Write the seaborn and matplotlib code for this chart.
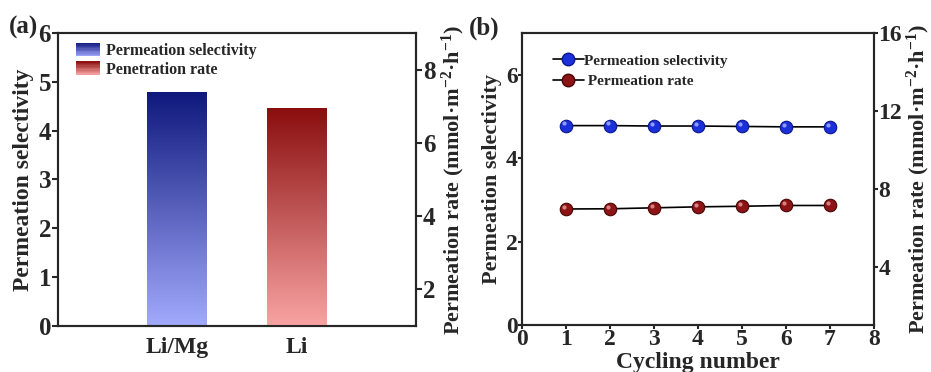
import numpy as np
import pandas as pd
import seaborn as sns
import matplotlib.pyplot as plt
from matplotlib.colors import LinearSegmentedColormap
from matplotlib.legend_handler import HandlerBase
from matplotlib.patches import Rectangle
from matplotlib.lines import Line2D
from matplotlib.transforms import ScaledTranslation

# data
categories = ['Li/Mg', 'Li']
selectivity_a = [4.79]
rate_a = [6.95]
cycles = [1, 2, 3, 4, 5, 6, 7]
selectivity_b = [4.78, 4.78, 4.77, 4.77, 4.76, 4.75, 4.75]
rate_b = [6.96, 6.97, 7.02, 7.07, 7.10, 7.14, 7.14]

sns.set_style('ticks')
plt.rcParams['font.family'] = ['Liberation Serif', 'DejaVu Serif']
plt.rcParams['font.weight'] = 'bold'
plt.rcParams['axes.labelweight'] = 'bold'
plt.rcParams['mathtext.fontset'] = 'custom'
plt.rcParams['mathtext.rm'] = 'Liberation Serif:bold'
plt.rcParams['mathtext.default'] = 'rm'
plt.rcParams['axes.linewidth'] = 1.5

blue_top, blue_bot = '#0f187c', '#a2aafd'
red_top, red_bot = '#8a0e0e', '#f9a3a3'
rate_label = 'Permeation rate (mmol·m$^{-2}$·h$^{-1}$)'

fig = plt.figure(figsize=(9.31, 3.72), dpi=100)
ax_a = fig.add_axes([0.0623, 0.1237, 0.3845, 0.7876])
ax_b = fig.add_axes([0.5604, 0.1263, 0.3784, 0.785])

# ---------- panel (a) ----------
df_sel = pd.DataFrame({'cat': categories[:1], 'val': selectivity_a})
df_rate = pd.DataFrame({'cat': categories[1:], 'val': rate_a})
sns.barplot(data=df_sel, x='cat', y='val', order=categories, width=0.5, ax=ax_a)
ax_a2 = ax_a.twinx()
sns.barplot(data=df_rate, x='cat', y='val', order=categories, width=0.5, ax=ax_a2)
ax_a.set_ylim(0, 6)
ax_a2.set_ylim(1, 9)
ax_a.set_xlim(-1, 2)


def gradient_fill(ax, patch, top, bottom):
    x0, y0 = patch.get_x(), max(patch.get_y(), ax.get_ylim()[0])
    x1, y1 = x0 + patch.get_width(), patch.get_y() + patch.get_height()
    cmap = LinearSegmentedColormap.from_list('g', [bottom, top])
    grad = np.linspace(0, 1, 256).reshape(-1, 1)
    im = ax.imshow(grad, cmap=cmap, origin='lower', aspect='auto',
                   extent=[x0, x1, y0, y1], zorder=patch.get_zorder())
    im.set_clip_path(patch)
    patch.set_facecolor('none')
    patch.set_edgecolor('none')


xl, yl = ax_a.get_xlim(), ax_a.get_ylim()
for p in ax_a.patches:
    gradient_fill(ax_a, p, blue_top, blue_bot)
ax_a.set_xlim(xl); ax_a.set_ylim(yl)
yl2 = ax_a2.get_ylim()
for p in ax_a2.patches:
    gradient_fill(ax_a2, p, red_top, red_bot)
ax_a2.set_xlim(xl); ax_a2.set_ylim(yl2)

ax_a.set_xlabel('')
ax_a.set_ylabel('Permeation selectivity', fontsize=17, labelpad=3)
ax_a2.set_ylabel(rate_label, fontsize=16, labelpad=3)
ax_a.set_yticks(range(0, 7))
ax_a2.set_yticks([2, 4, 6, 8])
ax_a.tick_params(axis='x', length=0, labelsize=17, pad=8)
ax_a.tick_params(axis='y', direction='out', length=4, width=1.5, labelsize=18, pad=1)
ax_a2.tick_params(axis='y', direction='out', length=4, width=1.5, labelsize=18, pad=1)
for lab in ax_a.get_xticklabels() + ax_a.get_yticklabels() + ax_a2.get_yticklabels():
    lab.set_fontweight('bold')


class GradientHandler(HandlerBase):
    def __init__(self, top, bottom, n=10):
        super().__init__()
        self.cmap = LinearSegmentedColormap.from_list('h', [bottom, top])
        self.n = n

    def create_artists(self, legend, orig_handle, xdescent, ydescent,
                       width, height, fontsize, trans):
        arts = []
        for i in range(self.n):
            r = Rectangle((-xdescent, -ydescent + height * i / self.n), width,
                          height / self.n + 0.3, facecolor=self.cmap((i + 0.5) / self.n),
                          edgecolor='none', transform=trans)
            arts.append(r)
        return arts


h_sel = Rectangle((0, 0), 1, 1)
h_rate = Rectangle((0, 0), 1, 1)
ax_a2.legend([h_sel, h_rate], ['Permeation selectivity', 'Penetration rate'],
             handler_map={h_sel: GradientHandler(blue_top, blue_bot),
                          h_rate: GradientHandler(red_top, red_bot)},
             loc='upper left', bbox_to_anchor=(0.01, 1.015), frameon=False,
             prop={'size': 11.5, 'weight': 'bold'}, handlelength=1.5,
             handleheight=0.9, handletextpad=0.4, labelspacing=0.15)

# ---------- panel (b) ----------
sel_color, sel_edge, sel_hi = '#1b30d8', '#0b1690', '#8f9cff'
rate_color, rate_edge, rate_hi = '#8c1414', '#4a0606', '#d98080'
df_b = pd.DataFrame({'cycle': cycles, 'sel': selectivity_b, 'rate': rate_b})

sns.lineplot(data=df_b, x='cycle', y='sel', color='black', lw=1.2, marker='o',
             markersize=9, markerfacecolor=sel_color, markeredgecolor=sel_edge,
             markeredgewidth=0.8, ax=ax_b)
ax_b2 = ax_b.twinx()
sns.lineplot(data=df_b, x='cycle', y='rate', color='black', lw=1.2, marker='o',
             markersize=9, markerfacecolor=rate_color, markeredgecolor=rate_edge,
             markeredgewidth=0.8, ax=ax_b2)
hi = ScaledTranslation(-1.6 / 72, 1.6 / 72, fig.dpi_scale_trans)
ax_b.plot(df_b['cycle'], df_b['sel'], ls='none', marker='o', ms=3,
          color=sel_hi, mec='none', transform=ax_b.transData + hi, zorder=5)
ax_b2.plot(df_b['cycle'], df_b['rate'], ls='none', marker='o', ms=3,
           color=rate_hi, mec='none', transform=ax_b2.transData + hi, zorder=5)

ax_b.set_xlim(0, 8)
ax_b.set_ylim(0, 7)
ax_b2.set_ylim(1, 16)
ax_b.set_xticks(range(0, 9))
ax_b.set_yticks([0, 2, 4, 6])
ax_b2.set_yticks([4, 8, 12, 16])
ax_b.set_xlabel('Cycling number', fontsize=17, labelpad=1)
ax_b.set_ylabel('Permeation selectivity', fontsize=16, labelpad=3)
ax_b2.set_ylabel(rate_label, fontsize=16, labelpad=2)
ax_b.tick_params(axis='both', direction='out', length=3, width=1.5, labelsize=17, pad=0)
ax_b2.tick_params(axis='y', direction='out', length=3, width=1.5, labelsize=17, pad=0)
for lab in ax_b.get_xticklabels() + ax_b.get_yticklabels() + ax_b2.get_yticklabels():
    lab.set_fontweight('bold')

leg_handles = [
    Line2D([], [], color='black', lw=1.2, marker='o', ms=9, mfc=sel_color, mec=sel_edge),
    Line2D([], [], color='black', lw=1.2, marker='o', ms=9, mfc=rate_color, mec=rate_edge),
]
ax_b2.legend(leg_handles, ['Permeation selectivity', ' Permeation rate'],
             loc='upper left', bbox_to_anchor=(0.05, 0.975), frameon=False,
             prop={'size': 11, 'weight': 'bold'}, handlelength=2.0,
             handletextpad=0.05, labelspacing=0.45)

fig.text(0.01, 0.925, '(a)', fontsize=18, fontweight='bold', va='center')
fig.text(0.504, 0.925, '(b)', fontsize=18, fontweight='bold', va='center')

fig.savefig('out.png', dpi=100)
